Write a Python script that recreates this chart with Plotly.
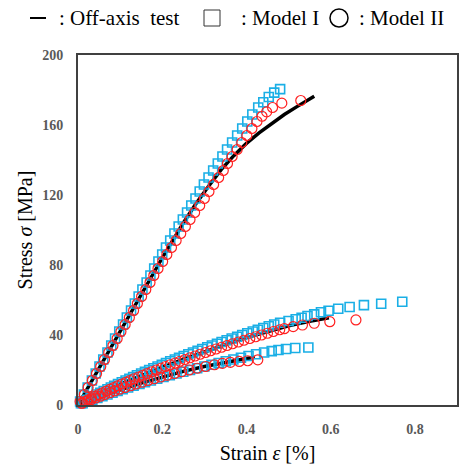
import plotly.graph_objects as go

# ---------------- data ----------------
# Steep curve (highest stiffness)
exp1_strain = [0, 0.05, 0.10, 0.15, 0.20, 0.25, 0.28, 0.31, 0.34, 0.37, 0.40, 0.43, 0.46, 0.49, 0.52, 0.545, 0.561]
exp1_stress = [0, 21, 42.5, 63.5, 84, 104, 115, 125, 134.5, 142.5, 149.5, 155.5, 161, 166, 170.5, 174, 176.5]

m1a_stress = [2, 6, 10, 14, 18, 22, 26, 30, 34, 38, 42, 46, 50, 54, 58, 62, 66, 70, 74, 78, 82, 86, 90, 94,
              98, 102, 106, 110, 114, 118, 122, 126, 130, 134, 138, 142, 146, 150, 154, 158, 162, 166, 170,
              173, 176, 178.5, 180.5]
m1a_strain = [0.005, 0.014, 0.023, 0.033, 0.042, 0.051, 0.060, 0.070, 0.079, 0.088, 0.098, 0.107, 0.116, 0.126,
              0.135, 0.144, 0.153, 0.163, 0.172, 0.181, 0.191, 0.200, 0.209, 0.219, 0.229, 0.239, 0.249, 0.259,
              0.269, 0.279, 0.289, 0.299, 0.310, 0.321, 0.332, 0.343, 0.354, 0.366, 0.378, 0.390, 0.402, 0.414,
              0.428, 0.440, 0.453, 0.466, 0.480]

m2a_stress = [2, 6, 10, 14, 18, 22, 26, 30, 34, 38, 42, 46, 50, 54, 58, 62, 66, 70, 74, 78, 82, 86, 90, 94,
              98, 102, 106, 110, 114, 118, 122, 126, 130, 134, 138, 142, 146, 150, 154, 158, 162, 165, 167.5,
              170, 172.5, 174]
m2a_strain = [0.005, 0.015, 0.024, 0.034, 0.044, 0.054, 0.063, 0.073, 0.083, 0.093, 0.102, 0.112, 0.122, 0.132,
              0.141, 0.151, 0.161, 0.171, 0.180, 0.190, 0.201, 0.211, 0.222, 0.233, 0.244, 0.255, 0.266, 0.277,
              0.289, 0.300, 0.311, 0.322, 0.334, 0.345, 0.355, 0.366, 0.378, 0.389, 0.401, 0.413, 0.425, 0.437,
              0.448, 0.462, 0.484, 0.529]

# Middle curve
exp2_strain = [0, 0.05, 0.10, 0.15, 0.20, 0.25, 0.30, 0.35, 0.40, 0.45, 0.50, 0.55, 0.596]
exp2_stress = [0, 6.5, 12, 17, 21.5, 26, 30.5, 34.5, 38.5, 42, 45.2, 47.8, 49.8]

m1b_stress = [1, 2, 3, 4, 5, 6, 7, 8, 9, 10, 11, 12, 13, 14, 15, 16, 17, 18, 19, 20, 21, 22, 23, 24, 25, 26,
              27, 28, 29, 30, 31, 32, 33, 34, 35, 36, 37, 38, 39, 40, 41, 42, 43, 44, 45, 46, 47, 48, 49,
              49.9, 50.9, 51.8, 53.0, 53.9, 55.0, 56.0, 57.1, 57.9, 59.0]
m1b_strain = [0.007, 0.015, 0.022, 0.030, 0.037, 0.045, 0.053, 0.061, 0.070, 0.078, 0.086, 0.095, 0.104, 0.113,
              0.122, 0.131, 0.140, 0.150, 0.159, 0.169, 0.179, 0.189, 0.199, 0.209, 0.219, 0.230, 0.240, 0.251,
              0.262, 0.273, 0.284, 0.295, 0.307, 0.318, 0.330, 0.341, 0.353, 0.365, 0.378, 0.390, 0.402, 0.415,
              0.427, 0.440, 0.453, 0.466, 0.480, 0.500, 0.517, 0.531, 0.545, 0.561, 0.577, 0.595, 0.618, 0.645,
              0.679, 0.720, 0.770]

m2b_stress = [1, 2, 3, 4, 5, 6, 7, 8, 9, 10, 11, 12, 13, 14, 15, 16, 17, 18, 19, 20, 21, 22, 23, 24, 25, 26,
              27, 28, 29, 30, 31, 32, 33, 34, 35, 36, 37, 38, 39, 40, 41, 42, 43, 43.6, 44.8, 45.7, 46.7,
              47.6, 48.6]
m2b_strain = [0.008, 0.016, 0.024, 0.032, 0.040, 0.049, 0.058, 0.067, 0.076, 0.085, 0.094, 0.104, 0.114, 0.123,
              0.133, 0.144, 0.154, 0.164, 0.175, 0.186, 0.197, 0.208, 0.219, 0.231, 0.242, 0.254, 0.266, 0.278,
              0.290, 0.303, 0.315, 0.328, 0.341, 0.354, 0.367, 0.381, 0.394, 0.408, 0.422, 0.436, 0.450, 0.464,
              0.479, 0.490, 0.511, 0.533, 0.561, 0.598, 0.660]

# Lowest curve
exp3_strain = [0, 0.05, 0.10, 0.15, 0.20, 0.25, 0.30, 0.35, 0.40, 0.42]
exp3_stress = [0, 4.5, 8.7, 12.5, 16, 19.2, 22, 24.5, 26.6, 27.3]

m1c_stress = [1, 2, 3, 4, 5, 6, 7, 8, 9, 10, 11, 12, 13, 14, 15, 16, 17, 18, 19, 20, 21, 22, 23, 24, 25, 26,
              27, 28, 29, 30, 30.8, 31.4, 32.0, 32.6, 32.9]
m1c_strain = [0.011, 0.023, 0.034, 0.046, 0.058, 0.070, 0.082, 0.094, 0.106, 0.119, 0.132, 0.146, 0.159, 0.173,
              0.188, 0.203, 0.218, 0.234, 0.250, 0.266, 0.283, 0.300, 0.317, 0.334, 0.351, 0.369, 0.387, 0.405,
              0.423, 0.442, 0.460, 0.476, 0.494, 0.516, 0.547]

m2c_stress = [1, 2, 3, 4, 5, 6, 7, 8, 9, 10, 11, 12, 13, 14, 15, 16, 17, 18, 19, 20, 21, 22, 23, 23.8, 24.4,
              24.9, 25.3, 25.8]
m2c_strain = [0.010, 0.021, 0.031, 0.042, 0.053, 0.064, 0.076, 0.087, 0.099, 0.112, 0.125, 0.138, 0.152, 0.166,
              0.181, 0.196, 0.212, 0.229, 0.246, 0.264, 0.283, 0.303, 0.324, 0.343, 0.362, 0.383, 0.403, 0.427]

x_ticks = [0, 0.2, 0.4, 0.6, 0.8]
x_ticktext = ["0", "0.2", "0.4", "0.6", "0.8"]
y_ticks = [0, 40, 80, 120, 160, 200]

# ---------------- figure ----------------
BLUE = "#1AAFE6"
RED = "#FF2020"
SERIF = "Liberation Serif, Times New Roman, DejaVu Serif, serif"
W, H = 460, 466
ML, MR, MT, MB = 78, 3, 55, 61
PW, PH = W - ML - MR, H - MT - MB

fig = go.Figure()

for xs, ys in [(exp1_strain, exp1_stress), (exp2_strain, exp2_stress), (exp3_strain, exp3_stress)]:
    fig.add_trace(go.Scatter(x=xs, y=ys, mode="lines", line=dict(color="black", width=3.5),
                             showlegend=False, cliponaxis=False))

for xs, ys in [(m1a_strain, m1a_stress), (m1b_strain, m1b_stress), (m1c_strain, m1c_stress)]:
    fig.add_trace(go.Scatter(x=xs, y=ys, mode="markers",
                             marker=dict(symbol="square-open", size=9, color=BLUE, line=dict(width=1.6, color=BLUE)),
                             showlegend=False, cliponaxis=False))

for xs, ys in [(m2a_strain, m2a_stress), (m2b_strain, m2b_stress), (m2c_strain, m2c_stress)]:
    fig.add_trace(go.Scatter(x=xs, y=ys, mode="markers",
                             marker=dict(symbol="circle-open", size=10, color=RED, line=dict(width=1.2, color=RED)),
                             showlegend=False, cliponaxis=False))

tick_font = dict(family=SERIF, size=14, color="#595959", weight="bold")
title_font = dict(family=SERIF, size=20, color="black")

fig.update_xaxes(range=[0, 0.9], tickvals=x_ticks, ticktext=x_ticktext, showgrid=False, zeroline=False,
                 showline=True, linecolor="#404040", linewidth=2, mirror=True, ticks="",
                 tickfont=tick_font, ticklabelstandoff=10, automargin=False,
                 title=dict(text="Strain <i>ε</i> [%]", font=title_font, standoff=10))
fig.update_yaxes(range=[0, 200], tickvals=y_ticks, showgrid=False, zeroline=False,
                 showline=True, linecolor="#404040", linewidth=2, mirror=True, ticks="",
                 tickfont=tick_font, ticklabelstandoff=10, automargin=False,
                 title=dict(text="Stress <i>σ</i> [MPa]", font=title_font, standoff=4))


def px_x(p):
    return (p - ML) / PW


def px_y(p):
    return (H - MB - p) / PH


legend_font = dict(family=SERIF, size=21, color="black")
for txt, xpos in [(": Off-axis&nbsp;&nbsp;test", 57), (": Model I", 239), (": Model II", 357)]:
    fig.add_annotation(text=txt, x=px_x(xpos), y=px_y(18), xref="paper", yref="paper",
                       xanchor="left", yanchor="middle", showarrow=False, font=legend_font)

# legend symbols
fig.add_shape(type="line", xref="paper", yref="paper", x0=px_x(30), x1=px_x(46), y0=px_y(18), y1=px_y(18),
              line=dict(color="black", width=2))
fig.add_shape(type="rect", xref="paper", yref="paper", x0=px_x(204), x1=px_x(220), y0=px_y(10), y1=px_y(26),
              line=dict(color="#333333", width=1))
fig.add_shape(type="circle", xref="paper", yref="paper", x0=px_x(330), x1=px_x(348), y0=px_y(9), y1=px_y(27),
              line=dict(color="black", width=1.5))

fig.update_layout(width=W, height=H, margin=dict(l=ML, r=MR, t=MT, b=MB, autoexpand=False),
                  paper_bgcolor="white", plot_bgcolor="white", showlegend=False)

fig.write_html("out.html", config={"displayModeBar": False},
               post_script="document.body.style.margin='0px';")
